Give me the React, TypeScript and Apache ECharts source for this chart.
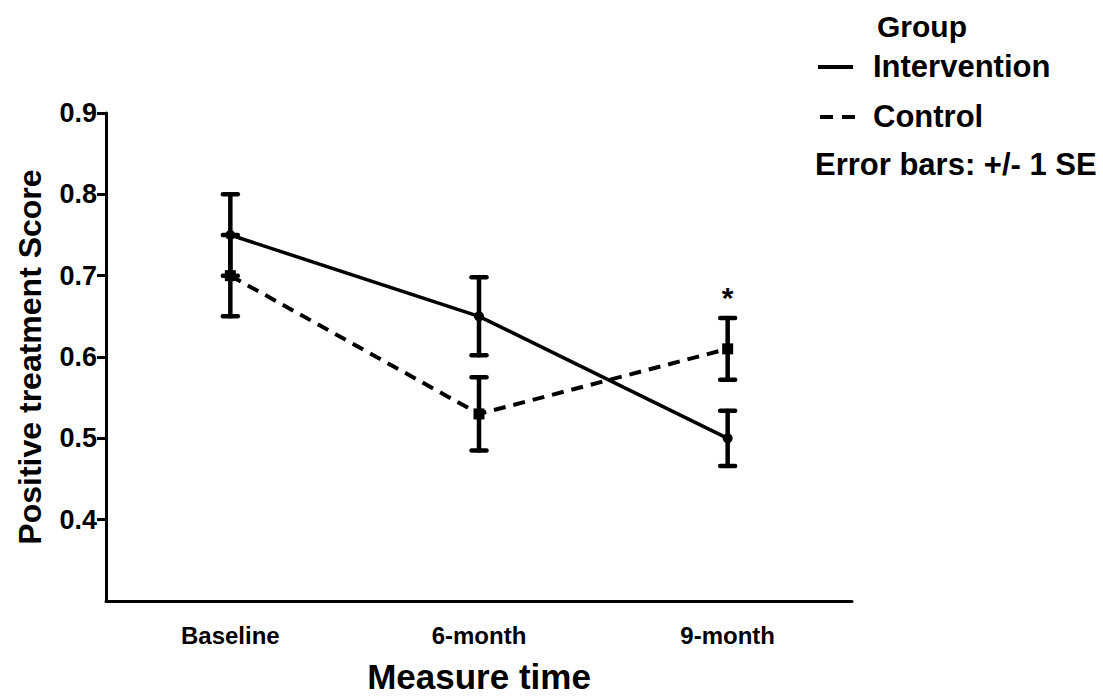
import React, { useEffect, useRef } from "react";
import * as echarts from "echarts";

const categories = ["Baseline", "6-month", "9-month"];
const interventionMean = [0.75, 0.65, 0.5];
const interventionSE = [0.05, 0.048, 0.034];
const controlMean = [0.7, 0.53, 0.61];
const controlSE = [0.05, 0.045, 0.038];
const controlMarks = ["", "", "*"];
const yTickValues = [0.4, 0.5, 0.6, 0.7, 0.8, 0.9];

const FONT = "'Liberation Sans', Arial, sans-serif";

function errorBarSeries(means: number[], ses: number[]) {
  return {
    type: "custom",
    silent: true,
    z: 3,
    data: means.map((m, i) => [i, m, ses[i]]),
    renderItem: (params: any, api: any) => {
      const x = api.value(0);
      const m = api.value(1);
      const se = api.value(2);
      const top = api.coord([x, m + se]);
      const bot = api.coord([x, m - se]);
      const cap = 7.5;
      const st = { stroke: "#000", lineWidth: 4.5, lineCap: "round" };
      return {
        type: "group",
        children: [
          { type: "line", shape: { x1: top[0], y1: top[1], x2: bot[0], y2: bot[1] }, style: st },
          { type: "line", shape: { x1: top[0] - cap, y1: top[1], x2: top[0] + cap, y2: top[1] }, style: st },
          { type: "line", shape: { x1: bot[0] - cap, y1: bot[1], x2: bot[0] + cap, y2: bot[1] }, style: st },
        ],
      };
    },
  };
}

export default function App() {
  const ref = useRef<HTMLDivElement>(null);
  useEffect(() => {
    document.body.style.margin = "0";
    if (!ref.current) return;
    const chart = echarts.init(ref.current, null, { renderer: "svg" });
    chart.setOption({
      animation: false,
      backgroundColor: "#fff",
      textStyle: { fontFamily: FONT },
      grid: { left: 106, top: 113, right: 251, bottom: 90, containLabel: false },
      xAxis: {
        type: "category",
        data: categories,
        boundaryGap: true,
        name: "Measure time",
        nameLocation: "middle",
        nameGap: 58,
        nameTextStyle: { fontSize: 35, fontWeight: "bold", color: "#000", fontFamily: FONT },
        axisLine: { lineStyle: { color: "#000", width: 3 } },
        axisTick: { inside: true, alignWithLabel: true, length: 9, lineStyle: { color: "#000", width: 3 } },
        axisLabel: { fontSize: 24, fontWeight: "bold", color: "#000", margin: 22, fontFamily: FONT },
        splitLine: { show: false },
      },
      yAxis: {
        type: "value",
        min: 0.3,
        max: 0.9,
        interval: 0.1,
        name: "Positive treatment Score",
        nameLocation: "middle",
        nameGap: 60,
        nameTextStyle: { fontSize: 32, fontWeight: "bold", color: "#000", fontFamily: FONT },
        axisLine: { show: true, lineStyle: { color: "#000", width: 3 } },
        axisTick: { show: true, length: 9, customValues: yTickValues, lineStyle: { color: "#000", width: 3 } },
        axisLabel: {
          fontSize: 27,
          fontWeight: "bold",
          color: "#000",
          margin: 9,
          customValues: yTickValues,
          formatter: (v: number) => v.toFixed(1),
          fontFamily: FONT,
        },
        splitLine: { show: false },
      },
      graphic: [
        { type: "text", left: 877, top: 11, style: { text: "Group", fontSize: 30, fontWeight: "bold", fill: "#000", fontFamily: FONT } },
        { type: "line", shape: { x1: 818, y1: 67, x2: 853, y2: 67 }, style: { stroke: "#000", lineWidth: 4 } },
        { type: "text", left: 873, top: 51, style: { text: "Intervention", fontSize: 31, fontWeight: "bold", fill: "#000", fontFamily: FONT } },
        { type: "line", shape: { x1: 820, y1: 117, x2: 856, y2: 117 }, style: { stroke: "#000", lineWidth: 4, lineDash: [13, 9] } },
        { type: "text", left: 873, top: 101, style: { text: "Control", fontSize: 31, fontWeight: "bold", fill: "#000", fontFamily: FONT } },
        { type: "text", left: 815, top: 149, style: { text: "Error bars: +/- 1 SE", fontSize: 31, fontWeight: "bold", fill: "#000", fontFamily: FONT } },
      ],
      series: [
        {
          name: "Intervention",
          type: "line",
          data: interventionMean,
          symbol: "circle",
          symbolSize: 10,
          z: 4,
          lineStyle: { color: "#000", width: 3.5, type: "solid" },
          itemStyle: { color: "#000" },
        },
        {
          name: "Control",
          type: "line",
          data: controlMean,
          symbol: "rect",
          symbolSize: 11,
          z: 4,
          lineStyle: { color: "#000", width: 4, type: [12, 8] },
          itemStyle: { color: "#000" },
        },
        errorBarSeries(interventionMean, interventionSE),
        errorBarSeries(controlMean, controlSE),
        {
          type: "custom",
          silent: true,
          z: 5,
          data: controlMean.map((m, i) => [i, m + controlSE[i]]),
          renderItem: (params: any, api: any) => {
            const mark = controlMarks[params.dataIndex];
            if (!mark) return null;
            const p = api.coord([api.value(0), api.value(1)]);
            return {
              type: "text",
              x: p[0],
              y: p[1] - 5,
              style: { text: mark, fontSize: 30, fontWeight: "bold", fill: "#000", align: "center", verticalAlign: "bottom", fontFamily: FONT },
            };
          },
        },
      ],
    });
    return () => chart.dispose();
  }, []);
  return <div ref={ref} style={{ width: 1103, height: 699 }} />;
}
